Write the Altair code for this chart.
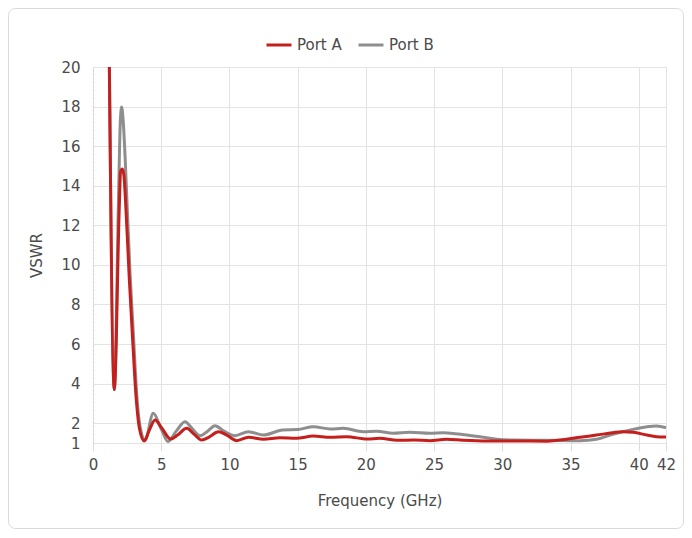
import altair as alt
import pandas as pd

# Port A (red)
freq_a = [1.2, 1.56, 1.93, 2.02, 2.15, 2.27, 2.38, 2.66, 2.9, 3.15, 3.4, 3.76, 4.1, 4.55, 5.0, 5.7,
          6.2, 6.87, 7.4, 7.97, 8.5, 9.19, 9.8, 10.53, 11.4, 12.5, 13.7, 14.9, 16.15, 17.4, 18.6,
          20.1, 21.0, 22.3, 23.5, 24.7, 25.9, 27.1, 28.9, 30.8, 33.3, 34.7, 35.7, 36.9, 38.1,
          38.8, 39.6, 40.6, 41.3, 42.0]
vswr_a = [20, 3.7, 13.0, 14.7, 14.85, 14.5, 13.3, 9.3, 6.3, 3.4, 1.75, 1.1, 1.6, 2.16, 1.8, 1.2,
          1.4, 1.74, 1.45, 1.15, 1.3, 1.57, 1.4, 1.12, 1.29, 1.19, 1.27, 1.24, 1.35, 1.29, 1.32,
          1.2, 1.24, 1.14, 1.15, 1.12, 1.19, 1.14, 1.1, 1.1, 1.09, 1.19, 1.29, 1.4, 1.52,
          1.57, 1.54, 1.4, 1.32, 1.3]

# Port B (gray)
freq_b = [1.2, 1.56, 1.86, 2.0, 2.1, 2.2, 2.35, 2.5, 2.72, 2.96, 3.2, 3.46, 3.82, 4.42, 5.0, 5.5,
          6.1, 6.74, 7.3, 7.84, 8.4, 8.94, 9.6, 10.4, 11.4, 12.5, 13.9, 15.0, 16.15, 17.4, 18.35,
          19.8, 20.8, 22.0, 23.2, 24.7, 25.7, 27.4, 28.6, 29.6, 30.8, 33.3, 35.7, 36.9, 38.1,
          39.4, 40.6, 41.3, 42.0]
vswr_b = [20, 3.7, 13.0, 17.2, 17.98, 17.4, 15.5, 13.0, 9.5, 6.5, 3.5, 1.8, 1.15, 2.5, 1.7, 1.07,
          1.6, 2.08, 1.7, 1.37, 1.6, 1.87, 1.6, 1.37, 1.57, 1.4, 1.66, 1.68, 1.82, 1.71, 1.74,
          1.57, 1.6, 1.49, 1.54, 1.49, 1.52, 1.4, 1.29, 1.19, 1.15, 1.14, 1.12, 1.19, 1.44,
          1.66, 1.82, 1.86, 1.77]

series_names = ["Port A", "Port B"]
series_colors = ["#c41f1c", "#8e8e8e"]
x_ticks = [0, 5, 10, 15, 20, 25, 30, 35, 40, 42]
y_ticks = [1, 2, 4, 6, 8, 10, 12, 14, 16, 18, 20]

df_a = pd.DataFrame({"freq": freq_a, "vswr": vswr_a, "port": "Port A"})
df_b = pd.DataFrame({"freq": freq_b, "vswr": vswr_b, "port": "Port B"})

FONT = "DejaVu Sans"
TXT = "#4a4a4a"

x_enc = alt.X("freq:Q", title="Frequency (GHz)",
              scale=alt.Scale(domain=[0, 42], nice=False, zero=False),
              axis=alt.Axis(values=x_ticks, labelFontSize=15, titleFontSize=15,
                            labelColor=TXT, titleColor=TXT, labelFont=FONT, titleFont=FONT,
                            titleFontWeight="normal", tickSize=8, tickColor="#dcdcdc",
                            domain=False, labelPadding=6, titlePadding=21,
                            gridColor="#e3e3e3", labelFlush=False))
y_enc = alt.Y("vswr:Q", title="VSWR",
              scale=alt.Scale(domain=[1, 20], nice=False, zero=False),
              axis=alt.Axis(values=y_ticks, labelFontSize=15, titleFontSize=15,
                            labelColor=TXT, titleColor=TXT, labelFont=FONT, titleFont=FONT,
                            titleFontWeight="normal", ticks=False, domain=True,
                            domainColor="#cfcfcf", domainDash=[2, 2],
                            labelPadding=13, titlePadding=16, gridColor="#e3e3e3"))
color_enc = alt.Color("port:N",
                      scale=alt.Scale(domain=series_names, range=series_colors),
                      legend=alt.Legend(title=None, orient="none", direction="horizontal",
                                        legendX=172, legendY=-36, symbolType="stroke",
                                        symbolSize=625, symbolStrokeWidth=3,
                                        labelFontSize=15, labelFont=FONT, labelColor=TXT,
                                        labelOffset=4, columnPadding=10))

line_b = alt.Chart(df_b).mark_line(strokeWidth=3, interpolate="monotone").encode(
    x=x_enc, y=y_enc, color=color_enc)
line_a = alt.Chart(df_a).mark_line(strokeWidth=3, interpolate="monotone").encode(
    x=x_enc, y=y_enc, color=color_enc)

frame = alt.Chart(pd.DataFrame({"k": [0]})).mark_rect(
    fill=None, stroke="#d9d9d9", strokeWidth=1, cornerRadius=7).encode(
    x=alt.value(-84.5), x2=alt.value(590.5), y=alt.value(-58.5), y2=alt.value(461.5))

chart = alt.layer(frame, line_b, line_a).properties(
    width=573, height=376,
    autosize=alt.AutoSizeParams(type="none"),
    padding={"left": 85, "top": 59, "right": 18, "bottom": 86},
).configure_view(stroke=None).configure(background="white")

chart.save("out.html", embed_options={"renderer": "svg", "actions": False})
